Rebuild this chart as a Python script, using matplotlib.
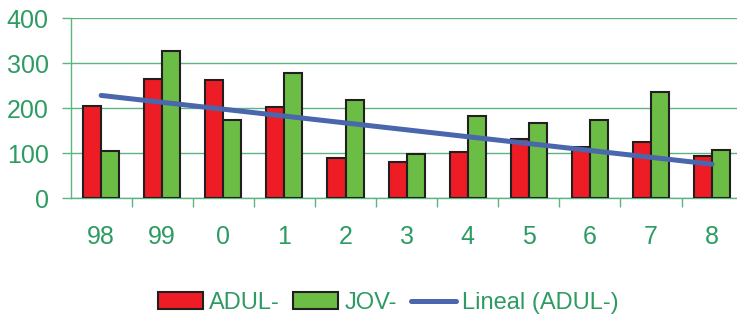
import matplotlib
matplotlib.use("Agg")
import matplotlib.pyplot as plt
import numpy as np

# data
years = ["98", "99", "0", "1", "2", "3", "4", "5", "6", "7", "8"]
adul = [205, 265, 263, 202, 90, 80, 102, 132, 114, 126, 95]
jov = [106, 327, 174, 278, 218, 98, 184, 168, 173, 237, 107]
y_ticks = [0, 100, 200, 300, 400]

RED = "#EE1C25"
GREEN = "#6BBD45"
BLUE = "#4A66AC"
TXT = "#2E9B62"
GRID = "#5DB382"

plt.rcParams["font.family"] = ["Liberation Sans", "DejaVu Sans"]

fig = plt.figure(figsize=(7.37, 3.18), dpi=100)
ax = fig.add_axes([70.6 / 737, (318 - 198.3) / 318, 672 / 737, 180 / 318])

x = np.arange(len(years))
w = 0.295
b1 = ax.bar(x - w / 2, adul, w, color=RED, edgecolor="#231F20", linewidth=1.5,
            label="ADUL-", zorder=3)
b2 = ax.bar(x + w / 2, jov, w, color=GREEN, edgecolor="#231F20", linewidth=1.5,
            label="JOV-", zorder=3)

# linear trend of ADUL-
slope, icpt = np.polyfit(x, adul, 1)
ln, = ax.plot(x, slope * x + icpt, color=BLUE, lw=3.6, solid_capstyle="round",
              label="Lineal (ADUL-)", zorder=4)

ax.set_xlim(-0.5, len(years) - 0.5)
ax.set_ylim(0, 400)
ax.set_yticks(y_ticks)
ax.set_yticklabels([str(v) for v in y_ticks], color=TXT, fontsize=18)
ax.set_xticks(x)
ax.set_xticklabels(years, color=TXT, fontsize=18)
ax.tick_params(axis="x", length=0, pad=19)
ax.set_xticks(np.arange(0.5, len(years) - 0.5), minor=True)
ax.tick_params(axis="x", which="minor", length=6.5, color=GRID, width=1, direction="out")
ax.tick_params(axis="y", length=6.8, color=GRID, width=1, pad=9)
ax.grid(axis="y", color=GRID, lw=1, zorder=0)
for s in ["top", "right"]:
    ax.spines[s].set_visible(False)
for s in ["left", "bottom"]:
    ax.spines[s].set_color(GRID)
    ax.spines[s].set_linewidth(1)

fig.legend([b1, b2, ln], ["ADUL-", "JOV-", "Lineal (ADUL-)"],
           loc="center", bbox_to_anchor=(388 / 737, 1 - 303 / 318), ncol=3,
           frameon=False, fontsize=17, handlelength=1.9, handletextpad=0.25,
           columnspacing=0.6, labelcolor=TXT, borderpad=0, handleheight=0.72)

fig.savefig("out.png", dpi=100, facecolor="white")
